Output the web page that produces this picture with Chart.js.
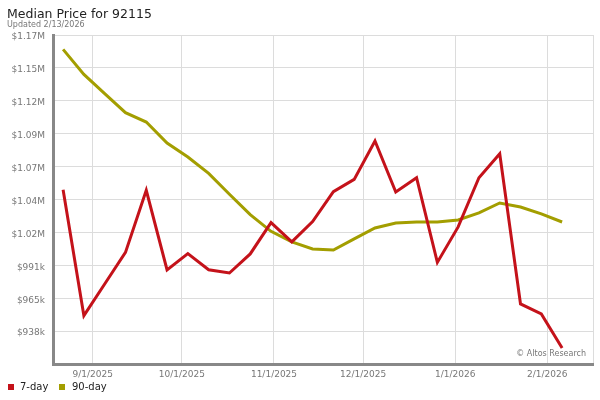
<!DOCTYPE html>
<html><head><meta charset="utf-8">
<script src="https://cdn.jsdelivr.net/npm/chart.js@4/dist/chart.umd.min.js"></script>
<style>
html,body{margin:0;padding:0;background:#fff;}
#wrap{position:relative;width:600px;height:400px;font-family:"DejaVu Sans",sans-serif;overflow:hidden;}
#c{position:absolute;left:0;top:0;}
.t{position:absolute;white-space:nowrap;}
#title{left:7px;top:7.5px;font-size:12.5px;line-height:12.5px;color:#222;}
#sub{left:7px;top:20.5px;font-size:8px;line-height:8px;color:#777;}
#wm{right:14px;top:350px;font-size:8px;line-height:8px;color:#777;}
.lg{top:381.5px;font-size:10px;line-height:10px;color:#222;}
.sw{position:absolute;width:6px;height:6px;top:384px;}
</style>
</head><body>
<div id="wrap">
<canvas id="c" width="600" height="400"></canvas>
<div class="t" id="title">Median Price for 92115</div>
<div class="t" id="sub">Updated 2/13/2026</div>
<div class="t" id="wm">© Altos Research</div>
<div class="sw" id="sw1" style="left:8px;"></div>
<div class="t lg" id="lg1" style="left:20px;">7-day</div>
<div class="sw" id="sw2" style="left:59px;"></div>
<div class="t lg" id="lg2" style="left:72px;">90-day</div>
</div>
<script>
const dates = ['2025-08-22','2025-08-29','2025-09-05','2025-09-12','2025-09-19','2025-09-26','2025-10-03','2025-10-10','2025-10-17','2025-10-24','2025-10-31','2025-11-07','2025-11-14','2025-11-21','2025-11-28','2025-12-05','2025-12-12','2025-12-19','2025-12-26','2026-01-02','2026-01-09','2026-01-16','2026-01-23','2026-01-30','2026-02-06'];
const sevenDay = [1050500, 950700, 975800, 1000800, 1050000, 986900, 999800, 987100, 984500, 999600, 1024400, 1009100, 1025200, 1048900, 1058700, 1089100, 1048700, 1060000, 992900, 1021000, 1060000, 1079000, 960000, 952000, 925100];
const ninetyDay = [1161700, 1141900, 1126600, 1111500, 1104100, 1087500, 1076400, 1063400, 1046900, 1030700, 1017500, 1009100, 1003500, 1002700, 1011500, 1020200, 1024100, 1024900, 1024900, 1026500, 1032100, 1040000, 1036800, 1031300, 1024900];
const seriesNames = ['7-day', '90-day'];
const seriesColors = ['#c4121a', '#a39e00'];
const xTickDates = ['2025-09-01','2025-10-01','2025-11-01','2025-12-01','2026-01-01','2026-02-01'];
const xTickLabels = ['9/1/2025','10/1/2025','11/1/2025','12/1/2025','1/1/2026','2/1/2026'];
const yTickValues = [938450, 964520, 990590, 1016660, 1042730, 1068800, 1094870, 1120940, 1147010, 1173080];
const yTickLabels = ['$938k','$965k','$991k','$1.02M','$1.04M','$1.07M','$1.09M','$1.12M','$1.15M','$1.17M'];
const yMin = 912380, yMax = 1173080;

function day(s){ const p = s.split('-').map(Number); return Date.UTC(p[0], p[1]-1, p[2]) / 86400000; }
const x0 = day(xTickDates[0]);
const xMin = x0 - 13.4, xMax = x0 + 168.4;

document.getElementById('sw1').style.background = seriesColors[0];
document.getElementById('sw2').style.background = seriesColors[1];

Chart.defaults.font.family = '"DejaVu Sans", sans-serif';
const mk = vals => dates.map((d, i) => ({x: day(d), y: vals[i]}));

new Chart(document.getElementById('c'), {
  type: 'line',
  data: {
    datasets: [
      {label: seriesNames[0], data: mk(sevenDay), borderColor: seriesColors[0], borderWidth: 3, pointRadius: 0, tension: 0, fill: false},
      {label: seriesNames[1], data: mk(ninetyDay), borderColor: seriesColors[1], borderWidth: 3, pointRadius: 0, tension: 0, fill: false}
    ]
  },
  options: {
    responsive: false, animation: false, devicePixelRatio: 1,
    layout: {padding: {left: 0, top: 35, right: 7, bottom: 16}},
    plugins: {legend: {display: false}, tooltip: {enabled: false}, title: {display: false}},
    scales: {
      x: {
        type: 'linear', min: xMin, max: xMax,
        afterBuildTicks: s => { s.ticks = xTickDates.map(d => ({value: day(d)})).concat([{value: xMax}]); },
        afterFit: s => { s.height = 20; },
        ticks: {
          autoSkip: false, maxRotation: 0, padding: 5, color: '#777', font: {size: 9},
          callback: (v, i) => xTickLabels[i] || ''
        },
        grid: {color: '#dcdcdc', lineWidth: 1, drawTicks: false},
        border: {display: true, color: '#888', width: 3}
      },
      y: {
        type: 'linear', min: yMin, max: yMax,
        afterBuildTicks: s => { s.ticks = yTickValues.map(v => ({value: v})); },
        afterFit: s => { s.width = 53; },
        ticks: {
          autoSkip: false, padding: 8, color: '#777', font: {size: 9}, labelOffset: 2,
          callback: (v, i) => yTickLabels[i]
        },
        grid: {color: '#dcdcdc', lineWidth: 1, drawTicks: false},
        border: {display: true, color: '#888', width: 3}
      }
    }
  }
});
</script>
</body></html>
